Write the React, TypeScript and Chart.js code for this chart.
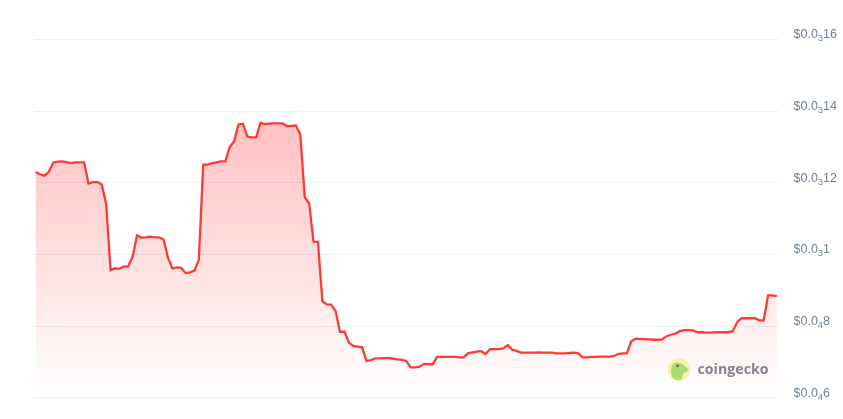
import React, { useEffect, useRef } from 'react';
import { Chart, registerables } from 'chart.js';

Chart.register(...registerables);

// price in units of 0.00001 USD, hourly over 7 days
const prices = [
  12.30, 12.24, 12.20, 12.30, 12.56, 12.59, 12.60, 12.58, 12.55, 12.57,
  12.57, 12.57, 11.98, 12.02, 12.02, 11.95, 11.41, 9.56, 9.62, 9.60,
  9.66, 9.67, 9.94, 10.53, 10.47, 10.48, 10.50, 10.48, 10.48, 10.42,
  9.92, 9.61, 9.64, 9.63, 9.48, 9.50, 9.55, 9.85, 12.51, 12.51,
  12.55, 12.57, 12.60, 12.60, 13.00, 13.16, 13.63, 13.65, 13.29, 13.27,
  13.27, 13.68, 13.64, 13.65, 13.66, 13.66, 13.66, 13.58, 13.59, 13.60,
  13.35, 11.60, 11.43, 10.36, 10.35, 8.69, 8.61, 8.60, 8.42, 7.84,
  7.85, 7.54, 7.45, 7.43, 7.41, 7.03, 7.05, 7.10, 7.10, 7.11,
  7.11, 7.09, 7.07, 7.06, 7.03, 6.85, 6.85, 6.87, 6.94, 6.94,
  6.93, 7.14, 7.14, 7.14, 7.14, 7.14, 7.13, 7.13, 7.24, 7.27,
  7.29, 7.30, 7.22, 7.36, 7.36, 7.36, 7.38, 7.47, 7.34, 7.31,
  7.26, 7.26, 7.26, 7.26, 7.27, 7.26, 7.26, 7.26, 7.24, 7.24,
  7.24, 7.25, 7.26, 7.24, 7.13, 7.13, 7.14, 7.14, 7.15, 7.15,
  7.15, 7.16, 7.22, 7.24, 7.24, 7.58, 7.65, 7.64, 7.64, 7.63,
  7.62, 7.62, 7.63, 7.72, 7.76, 7.79, 7.86, 7.89, 7.89, 7.88,
  7.83, 7.83, 7.82, 7.82, 7.83, 7.83, 7.83, 7.83, 7.86, 8.11,
  8.22, 8.22, 8.22, 8.22, 8.16, 8.16, 8.86, 8.86, 8.84,
];
const hours = prices.map((_, i) => i);

const tickValues = [6, 8, 10, 12, 14, 16];
// [leading part, subscript, trailing part]
const tickLabels = [
  ['$0.0', '4', '6'],
  ['$0.0', '4', '8'],
  ['$0.0', '3', '1'],
  ['$0.0', '3', '12'],
  ['$0.0', '3', '14'],
  ['$0.0', '3', '16'],
];

const LINE = '#ff3a36';
const GRID = '#efeff1';
const TICK = '#6f8196';

// price labels with the zero count set as a real smaller subscript
const axisLabels = {
  id: 'axisLabels',
  afterDraw(chart: Chart) {
    const { ctx } = chart;
    const y = chart.scales.y;
    ctx.save();
    ctx.fillStyle = TICK;
    ctx.textBaseline = 'alphabetic';
    tickValues.forEach((v, i) => {
      const [a, sub, b] = tickLabels[i];
      const base = y.getPixelForValue(v) - 1.2;
      let x = 793.5;
      ctx.font = '12.5px "Liberation Sans"';
      ctx.fillText(a, x, base);
      x += ctx.measureText(a).width;
      ctx.font = '9.5px "Liberation Sans"';
      ctx.fillText(sub, x, base + 3);
      x += ctx.measureText(sub).width;
      ctx.font = '12.5px "Liberation Sans"';
      ctx.fillText(b, x, base);
    });
    ctx.restore();
  },
};

// coingecko mark in the lower right of the plot
const watermark = {
  id: 'watermark',
  afterDatasetsDraw(chart: Chart) {
    const { ctx } = chart;
    ctx.save();
    ctx.beginPath();
    ctx.arc(678.8, 369.5, 11.3, 0, Math.PI * 2);
    ctx.fillStyle = '#fbf0a8';
    ctx.fill();
    ctx.beginPath();
    ctx.moveTo(671, 371);
    ctx.quadraticCurveTo(671, 362.5, 677, 362.5);
    ctx.quadraticCurveTo(684, 363, 688.5, 370);
    ctx.quadraticCurveTo(686, 372.5, 683.5, 373);
    ctx.lineTo(681.5, 379.8);
    ctx.quadraticCurveTo(677, 381, 674, 379);
    ctx.quadraticCurveTo(671, 376, 671, 371);
    ctx.closePath();
    ctx.fillStyle = '#a6df72';
    ctx.fill();
    ctx.beginPath();
    ctx.arc(677.5, 365.8, 1.5, 0, Math.PI * 2);
    ctx.fillStyle = '#77757f';
    ctx.fill();
    ctx.font = 'bold 14.2px "Open Sans"';
    ctx.fillStyle = '#85838f';
    ctx.textBaseline = 'alphabetic';
    ctx.fillText('coingecko', 697.5, 373.5);
    ctx.restore();
  },
};

export default function App() {
  const ref = useRef<HTMLCanvasElement>(null);

  useEffect(() => {
    if (!ref.current) return;
    const chart = new Chart(ref.current, {
      type: 'line',
      data: {
        labels: hours,
        datasets: [{
          data: prices,
          borderColor: LINE,
          borderWidth: 2.3,
          pointRadius: 0,
          tension: 0,
          fill: 'start',
          backgroundColor: (c: any) => {
            const area = c.chart.chartArea;
            if (!area) return 'rgba(255,0,0,.2)';
            const g = c.chart.ctx.createLinearGradient(0, 120, 0, area.bottom);
            g.addColorStop(0, 'rgba(255,60,60,.32)');
            g.addColorStop(1, 'rgba(255,60,60,0)');
            return g;
          },
        }],
      },
      options: {
        responsive: false,
        animation: false,
        layout: { padding: { left: 34, top: 39.5, bottom: 21.2, right: 0 } },
        plugins: { legend: { display: false }, tooltip: { enabled: false } },
        scales: {
          x: {
            type: 'linear',
            min: -0.35,
            max: 168.25,
            display: false,
          },
          y: {
            position: 'right',
            min: 6,
            max: 16,
            afterFit: (s: any) => { s.width = 65; },
            afterBuildTicks: (s: any) => { s.ticks = tickValues.map(value => ({ value })); },
            grid: { color: GRID, drawTicks: false },
            border: { display: false },
            ticks: { display: false },
          },
        },
      },
      plugins: [watermark, axisLabels],
    });
    return () => chart.destroy();
  }, []);

  return (
    <div style={{ position: 'fixed', left: 0, top: 0, width: 843, height: 419, background: '#fff' }}>
      <canvas ref={ref} width={843} height={419} style={{ display: 'block' }} />
    </div>
  );
}
